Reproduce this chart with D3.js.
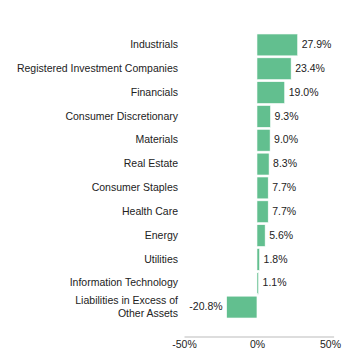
<!DOCTYPE html>
<html><head><meta charset="utf-8">
<script src="https://cdn.jsdelivr.net/npm/d3@7"></script>
<style>body{margin:0;background:#fff}svg{display:block}</style>
</head><body>
<svg id="c" width="348" height="360"></svg>
<script>
const categories = ["Industrials","Registered Investment Companies","Financials","Consumer Discretionary","Materials","Real Estate","Consumer Staples","Health Care","Energy","Utilities","Information Technology","Liabilities in Excess of\nOther Assets"];
const values = [27.9,23.4,19.0,9.3,9.0,8.3,7.7,7.7,5.6,1.8,1.1,-20.8];
const tickValues = [-50,0,50];

const svg = d3.select("#c");
const font = "Liberation Sans, Arial, sans-serif";
const fs = 10.5;
const x = d3.scaleLinear().domain([-50,52.5]).range([184,333.6]);
const yb = d3.scaleBand().domain(categories).range([32,320]).padding(1/12);

svg.selectAll("rect.bar").data(values).enter().append("rect")
  .attr("x", d => x(Math.min(0,d)))
  .attr("width", d => Math.abs(x(d)-x(0)))
  .attr("y", (d,i) => yb(categories[i]))
  .attr("height", yb.bandwidth())
  .attr("fill", "#62bf8f")
  .attr("stroke", "#ffffff").attr("stroke-width", 0.6);

svg.selectAll("text.val").data(values).enter().append("text")
  .attr("x", d => d >= 0 ? x(d) + 4 : x(d) - 4)
  .attr("y", (d,i) => yb(categories[i]) + yb.bandwidth()/2 - 0.5)
  .attr("dy", "0.35em")
  .attr("text-anchor", d => d >= 0 ? "start" : "end")
  .attr("font-family", font).attr("font-size", fs).attr("fill", "#222")
  .text(d => d.toFixed(1) + "%");

const cat = svg.selectAll("text.cat").data(categories).enter().append("text")
  .attr("x", 178)
  .attr("text-anchor", "end")
  .attr("font-family", font).attr("font-size", fs).attr("fill", "#222");
cat.each(function(c){
  const lines = c.split("\n");
  const cy = yb(c) + yb.bandwidth()/2 - 0.5;
  const lh = 12.5;
  const t = d3.select(this);
  lines.forEach((l,k) => {
    t.append("tspan").attr("x", 178)
      .attr("y", cy + (k - (lines.length-1)/2)*lh)
      .attr("dy", "0.35em").text(l);
  });
});

const axis = d3.axisBottom(x).tickValues(tickValues).tickSize(0).tickPadding(4).tickFormat(d => d + "%");
const g = svg.append("g").attr("transform", "translate(0,336.5)").call(axis);
g.select(".domain").attr("stroke", "#bbb");
g.selectAll("text").attr("font-family", font).attr("font-size", fs).attr("fill", "#222");
</script>
</body></html>
